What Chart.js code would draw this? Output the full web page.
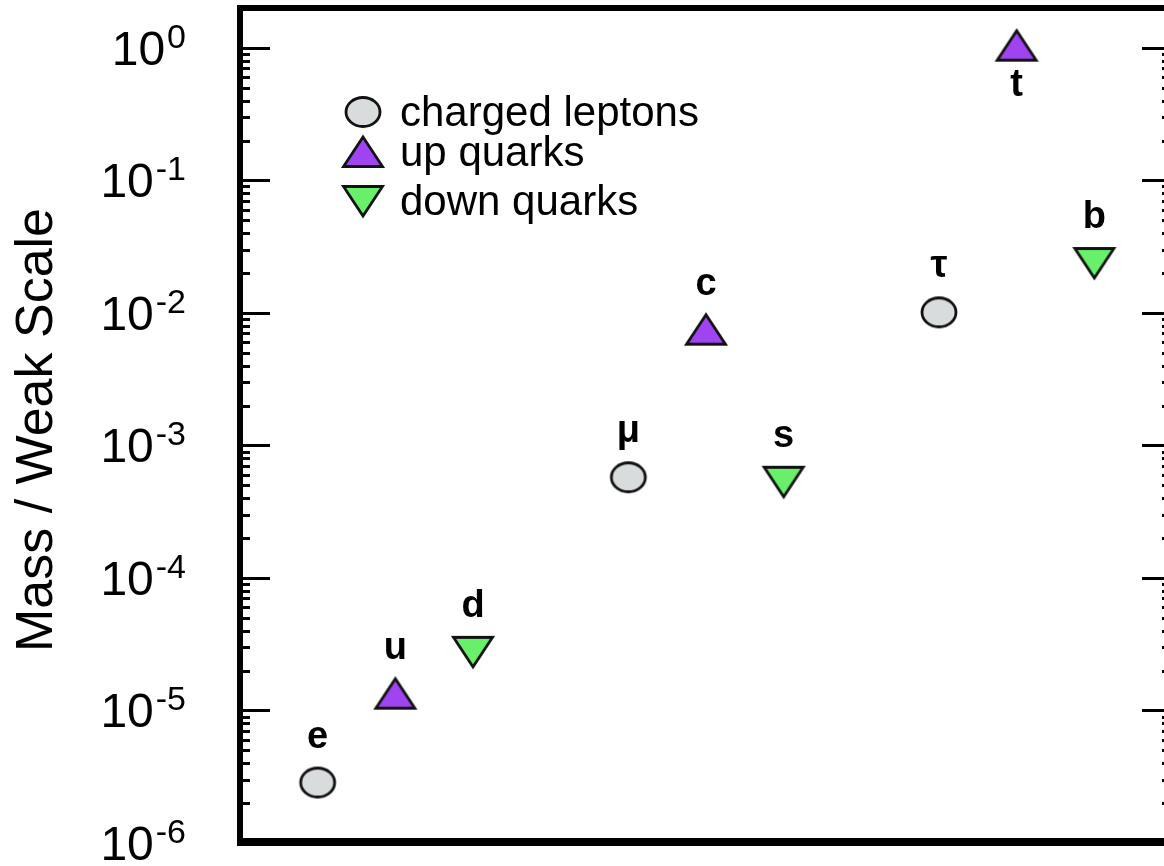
<!DOCTYPE html>
<html>
<head>
<meta charset="utf-8">
<script src="https://cdn.jsdelivr.net/npm/chart.js@4.4.0/dist/chart.umd.min.js"></script>
<style>
  html, body { margin: 0; padding: 0; background: #fff; overflow: hidden; }
  #wrap { position: relative; width: 1180px; height: 866px; }
</style>
</head>
<body>
<div id="wrap"><canvas id="massChart" width="1180" height="866"></canvas></div>
<script>
// fermion masses over the weak scale, one set of lists per family
const leptonNames = ['e', 'μ', 'τ'];
const leptonSlots = [1, 5, 9];
const leptonMass = [2.86e-6, 5.75e-4, 1.01e-2];

const upNames = ['u', 'c', 't'];
const upSlots = [2, 6, 10];
const upMass = [1.34e-5, 7.48e-3, 1.04];

const downNames = ['d', 's', 'b'];
const downSlots = [3, 7, 11];
const downMass = [2.77e-5, 5.32e-4, 2.38e-2];

const seriesLabels = ['charged leptons', 'up quarks', 'down quarks'];
const yTickExponents = [0, -1, -2, -3, -4, -5, -6];
const yAxisTitle = 'Mass / Weak Scale';

const FONT = '"Liberation Sans", Arial, Helvetica, sans-serif';

// small canvases used as point styles (markers are slightly wider than tall)
function makeMarker(kind, fill) {
    const w = 46, h = 38;
    const c = document.createElement('canvas');
    c.width = w; c.height = h;
    const g = c.getContext('2d');
    g.fillStyle = fill;
    g.strokeStyle = '#111';
    g.lineWidth = 2.8;
    g.lineJoin = 'miter';
    g.beginPath();
    if (kind === 'circle') {
        g.ellipse(w / 2, h / 2, 17, 14.5, 0, 0, Math.PI * 2);
    } else if (kind === 'up') {
        g.moveTo(w / 2, h / 2 - 15);
        g.lineTo(w / 2 + 19.5, h / 2 + 14.5);
        g.lineTo(w / 2 - 19.5, h / 2 + 14.5);
        g.closePath();
    } else {
        g.moveTo(w / 2, h / 2 + 15);
        g.lineTo(w / 2 + 19.5, h / 2 - 14.5);
        g.lineTo(w / 2 - 19.5, h / 2 - 14.5);
        g.closePath();
    }
    g.fill();
    g.stroke();
    return c;
}

const markers = [
    makeMarker('circle', '#d9dcdc'),
    makeMarker('up', '#a043f0'),
    makeMarker('down', '#68f06a')
];

function toPoints(slots, values) {
    return slots.map((x, i) => ({ x: x, y: values[i] }));
}

const names = [leptonNames, upNames, downNames];
const labelBelow = ['t'];

// frame, inward ticks on both sides, tick labels, title, legend and point names
const decorations = {
    id: 'decorations',
    afterDatasetsDraw(chart) {
        const ctx = chart.ctx;
        const area = chart.chartArea;
        const y = chart.scales.y;

        ctx.save();
        ctx.strokeStyle = '#000';
        ctx.fillStyle = '#000';

        // ticks
        ctx.lineWidth = 3;
        yTickExponents.forEach(exp => {
            for (let k = 1; k <= 9; k++) {
                const v = k * Math.pow(10, exp);
                if (v > y.max || v < y.min) continue;
                const py = Math.round(y.getPixelForValue(v)) + 0.5;
                const len = k === 1 ? 30 : 10;
                ctx.beginPath();
                ctx.moveTo(area.left, py);
                ctx.lineTo(area.left + len, py);
                ctx.moveTo(area.right, py);
                ctx.lineTo(area.right - len, py);
                ctx.stroke();
            }
        });

        // frame
        ctx.lineWidth = 6;
        ctx.strokeRect(area.left, area.top, area.right - area.left, area.bottom - area.top - 1);
        ctx.lineWidth = 8;
        ctx.beginPath();
        ctx.moveTo(area.left - 3, area.bottom - 1);
        ctx.lineTo(area.right + 3, area.bottom - 1);
        ctx.stroke();

        // tick labels 10^n
        ctx.textBaseline = 'alphabetic';
        ctx.textAlign = 'left';
        yTickExponents.forEach(exp => {
            const py = y.getPixelForValue(Math.pow(10, exp));
            const sup = String(exp);
            ctx.font = '34px ' + FONT;
            const supW = ctx.measureText(sup).width;
            ctx.font = '48px ' + FONT;
            const baseW = ctx.measureText('10').width;
            const right = 186;
            const x0 = right - supW - 2 - baseW;
            ctx.fillText('10', x0, py + 17);
            ctx.font = '34px ' + FONT;
            ctx.fillText(sup, x0 + baseW + 2, py);
        });

        // axis title
        ctx.save();
        ctx.translate(52, 430);
        ctx.rotate(-Math.PI / 2);
        ctx.textAlign = 'center';
        ctx.font = '52px ' + FONT;
        ctx.fillText(yAxisTitle, 0, 0);
        ctx.restore();

        // names next to each point
        ctx.font = 'bold 38px ' + FONT;
        ctx.textAlign = 'center';
        chart.data.datasets.forEach((ds, di) => {
            chart.getDatasetMeta(di).data.forEach((pt, i) => {
                const name = names[di][i];
                const below = labelBelow.includes(name);
                ctx.fillText(name, pt.x, below ? pt.y + 50 : pt.y - 35);
            });
        });

        // legend
        const rowY = [112, 152, 201];
        ctx.font = '42px ' + FONT;
        ctx.textAlign = 'left';
        ctx.textBaseline = 'middle';
        chart.data.datasets.forEach((ds, di) => {
            const img = ds.pointStyle;
            ctx.drawImage(img, 363 - img.width / 2, rowY[di] - img.height / 2);
            ctx.fillText(ds.label, 400, rowY[di] + 2);
        });

        ctx.restore();
    }
};

const chart = new Chart(document.getElementById('massChart'), {
    type: 'scatter',
    data: {
        datasets: [
            { label: seriesLabels[0], data: toPoints(leptonSlots, leptonMass), pointStyle: markers[0] },
            { label: seriesLabels[1], data: toPoints(upSlots, upMass), pointStyle: markers[1] },
            { label: seriesLabels[2], data: toPoints(downSlots, downMass), pointStyle: markers[2] }
        ]
    },
    options: {
        responsive: false,
        animation: false,
        layout: { padding: { left: 240, right: 8, top: 8, bottom: 23 } },
        scales: {
            x: { type: 'linear', min: 0, max: 12, display: false },
            y: { type: 'logarithmic', min: 1e-6, max: 2, display: false }
        },
        plugins: {
            legend: { display: false },
            tooltip: { enabled: false }
        }
    },
    plugins: [decorations]
});
</script>
</body>
</html>
